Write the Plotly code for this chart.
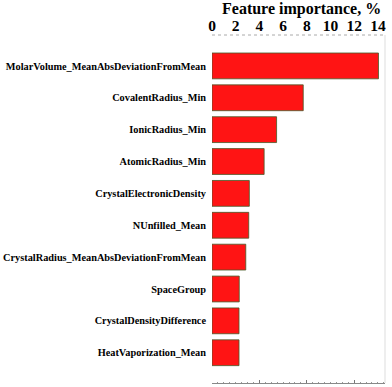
import plotly.graph_objects as go

features = [
    "MolarVolume_MeanAbsDeviationFromMean",
    "CovalentRadius_Min",
    "IonicRadius_Min",
    "AtomicRadius_Min",
    "CrystalElectronicDensity",
    "NUnfilled_Mean",
    "CrystalRadius_MeanAbsDeviationFromMean",
    "SpaceGroup",
    "CrystalDensityDifference",
    "HeatVaporization_Mean",
]
importance = [14.05, 7.7, 5.45, 4.4, 3.15, 3.1, 2.85, 2.3, 2.28, 2.28]
xticks = [0, 2, 4, 6, 8, 10, 12, 14]
bottom_ticks = [4, 8, 12]

idx = list(range(len(features)))
font_fam = "Liberation Serif, Times New Roman, serif"
x_range = [0, 14.6]

fig = go.Figure()
fig.add_trace(go.Bar(
    x=importance, y=idx, orientation="h", width=0.81,
    marker=dict(color="#ff1414", line=dict(color="rgba(70,90,40,0.8)", width=1)),
    hoverinfo="skip",
))
# invisible trace to anchor the bottom axis
fig.add_trace(go.Scatter(x=[0], y=[0], xaxis="x2", mode="markers",
                         marker=dict(opacity=0), hoverinfo="skip"))

fig.update_layout(
    width=392, height=387,
    margin=dict(l=212, r=7, t=35, b=4, autoexpand=False),
    plot_bgcolor="white", paper_bgcolor="white",
    showlegend=False,
    xaxis=dict(
        side="top", range=x_range, tickvals=xticks, showgrid=False, zeroline=False,
        tickfont=dict(family=font_fam, size=15.5, color="black", weight="bold"),
        showline=False, ticks="", ticklabelstandoff=0, automargin=False,
    ),
    xaxis2=dict(
        overlaying="x", side="bottom", anchor="y", range=x_range,
        tickvals=bottom_ticks, showticklabels=False, ticks="inside", ticklen=3,
        tickcolor="#777777", showgrid=False, zeroline=False,
        showline=True, linecolor="#888888", linewidth=1, automargin=False,
        minor=dict(dtick=0.5, tick0=0, ticks="inside", ticklen=1.5, tickcolor="#999999"),
    ),
    yaxis=dict(
        range=[9.95, -0.97], tickvals=idx, ticktext=features, showgrid=False, zeroline=False,
        tickfont=dict(family=font_fam, size=10.3, color="black", weight="bold"),
        ticks="", showline=False, ticklabelstandoff=5, automargin=False,
    ),
    font=dict(family=font_fam),
)

# top dotted axis line, right axis line
fig.add_shape(type="line", xref="paper", yref="paper", x0=0, x1=1, y0=1, y1=1,
              line=dict(color="#aaaaaa", width=1, dash="dot"))
fig.add_shape(type="line", xref="paper", yref="paper", x0=1, x1=1, y0=0, y1=1,
              line=dict(color="#dddddd", width=1))

fig.add_annotation(text="Feature importance, %", xref="paper", yref="paper",
                   x=0.52, y=1, yshift=26, yanchor="middle", showarrow=False,
                   font=dict(family=font_fam, size=16, color="black", weight="bold"))

fig.write_html("out.html", config={"displayModeBar": False},
               post_script="document.body.style.margin='0';")
